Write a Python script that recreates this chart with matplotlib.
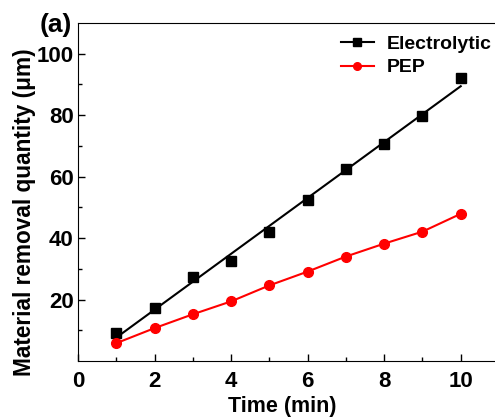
import matplotlib
matplotlib.use("Agg")
import matplotlib.pyplot as plt
import numpy as np

plt.rcParams['font.family'] = ['Liberation Sans', 'DejaVu Sans']
plt.rcParams['font.weight'] = 'bold'

time_min = [1, 2, 3, 4, 5, 6, 7, 8, 9, 10]
electrolytic = [9.1, 17.1, 27.2, 32.7, 42.1, 52.4, 62.4, 70.6, 79.6, 92.0]
pep = [5.8, 10.7, 15.2, 19.4, 24.6, 29.1, 34.0, 38.2, 42.1, 47.9]

fig = plt.figure(figsize=(4.95, 4.17), dpi=100)
ax = fig.add_axes([78 / 495, 56 / 417, 421 / 495, 338 / 417])

# linear fit for the electrolytic data
k, b = np.polyfit(time_min, electrolytic, 1)
xf = np.array([time_min[0], time_min[-1]])
ax.plot(xf, k * xf + b, color='black', lw=1.5)
ax.plot(time_min, electrolytic, 's', color='black', ms=6.5)
ax.plot(time_min, pep, '-o', color='red', lw=1.5, ms=7)

# legend handles
ax.plot([], [], '-s', color='black', lw=1.5, ms=5.5, label='Electrolytic')
ax.plot([], [], '-o', color='red', lw=1.5, ms=5.5, label='PEP')
ax.legend(loc='upper right', bbox_to_anchor=(1.024, 1.015), frameon=False,
          handlelength=1.7, handletextpad=0.65, labelspacing=0.3,
          prop={'weight': 'bold', 'size': 14})

ax.set_xlim(0, 11)
ax.set_ylim(0, 110)
ax.set_xticks([0, 2, 4, 6, 8, 10])
ax.set_yticks([20, 40, 60, 80, 100])
ax.set_xticks([1, 3, 5, 7, 9], minor=True)
ax.set_yticks([10, 30, 50, 70, 90], minor=True)
ax.tick_params(which='both', direction='in', labelsize=16, width=1)
ax.tick_params(which='major', length=5)
ax.tick_params(which='minor', length=3)
for lab in ax.get_xticklabels() + ax.get_yticklabels():
    lab.set_fontweight('bold')
ax.tick_params(axis='x', pad=7)
ax.tick_params(axis='y', pad=3)

ax.set_xlabel('Time (min)', fontsize=15.5, fontweight='bold')
ax.set_ylabel('Material removal quantity (μm)', fontsize=16.3, fontweight='bold')
ax.xaxis.set_label_coords(0.485, -0.105)
ax.yaxis.set_label_coords(-0.099, 0.44)
fig.text(0.113, 0.94, '(a)', fontsize=19, fontweight='bold', ha='center', va='center')

fig.savefig('out.png', dpi=100)
